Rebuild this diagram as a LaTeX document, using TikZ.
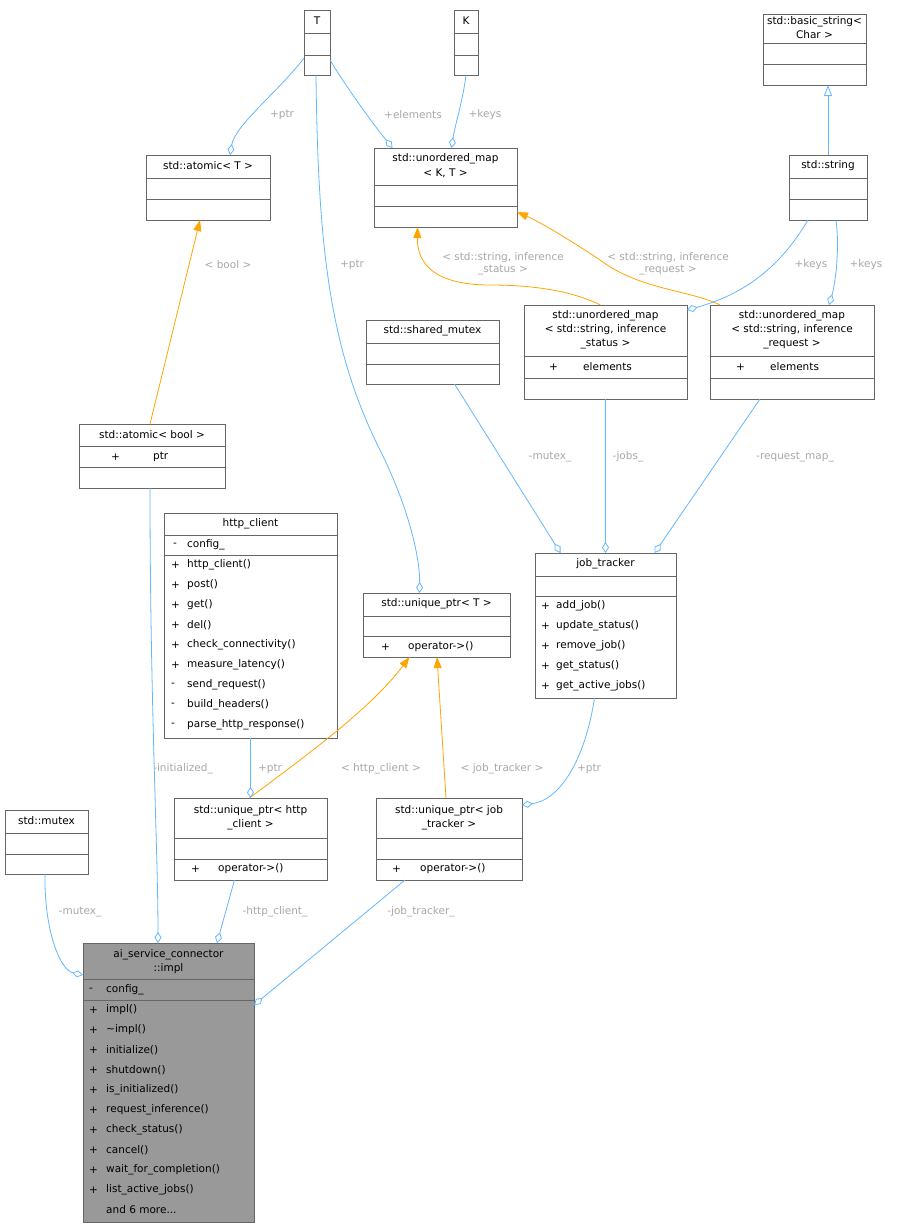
\documentclass[tikz,border=0pt]{standalone}
\usepackage{fontspec}
\setmainfont{DejaVu Sans}
\usetikzlibrary{arrows.meta,calc}
\definecolor{edgeb}{HTML}{63B8FF}
\definecolor{edgeo}{HTML}{FFA500}
\definecolor{lbl}{HTML}{A8A8A8}
\definecolor{brd}{HTML}{666666}
\definecolor{implfill}{HTML}{999999}
\newcommand\ubox[6][white]{\node[box,fill=#1,minimum width={(#5-#3)*1pt},minimum height={(#6-#4)*1pt},anchor=north west] (#2) at (#3,-#4) {};}
\newcommand\usep[3]{\draw[brd] (#1,-#3) -- (#2,-#3);}
\newcommand\hdt[3]{\node[txt] at (#1,{-(#2)}) {#3};}
\newcommand\mtx[3]{\node[txt,anchor=west] at (#1,{-(#2)}) {#3};}
\begin{document}
\begin{tikzpicture}[x=1pt,y=1pt,
  box/.style={draw=brd,inner sep=0,outer sep=0,line width=0.8pt},
  txt/.style={inner sep=0,font=\fontsize{10.5}{12}\selectfont},
  lab/.style={inner sep=0,font=\fontsize{10.5}{12}\selectfont,text=lbl},
  assoc/.style={edgeb,line width=0.8pt,-{Diamond[open,length=11pt,width=7pt]}},
  tmpl/.style={edgeo,line width=0.8pt,-{Triangle[length=11pt,width=8pt]}},
  inh/.style={edgeb,line width=0.8pt,-{Triangle[open,length=11pt,width=8pt]}}]
\useasboundingbox (0,0) rectangle (899,-1229);
\fill[white] (0,0) rectangle (899,-1229);
% boxes
\ubox{T}{304}{10}{330}{75}\usep{304}{330}{33}\usep{304}{330}{55}\hdt{317}{21}{T}
\ubox{K}{454}{10}{478}{75}\usep{454}{478}{33}\usep{454}{478}{55}\hdt{466}{21}{K}
\ubox{bstr}{763}{14}{866}{85}\usep{763}{866}{43}\usep{763}{866}{64}\hdt{814.5}{22}{std::basic\_string<}\hdt{814.5}{35}{Char >}
\ubox{atomT}{146}{155}{270}{220}\usep{146}{270}{178}\usep{146}{270}{199}\hdt{208}{166}{std::atomic< T >}
\ubox{umapKT}{374}{148}{517}{227}\usep{374}{517}{185}\usep{374}{517}{206}\hdt{445.5}{159}{std::unordered\_map}\hdt{445.5}{173}{< K, T >}
\ubox{str}{789}{155}{867}{220}\usep{789}{867}{178}\usep{789}{867}{199}\hdt{828}{166}{std::string}
\ubox{shm}{366}{320}{499}{384}\usep{366}{499}{343}\usep{366}{499}{364}\hdt{432.5}{331}{std::shared\_mutex}
\ubox{umS}{524}{305}{687}{399}\usep{524}{687}{356}\usep{524}{687}{378}
\hdt{605.5}{316}{std::unordered\_map}\hdt{605.5}{330}{< std::string, inference}\hdt{605.5}{344}{\_status >}
\mtx{549}{367}{+}\mtx{583}{367}{elements}
\ubox{umR}{710}{305}{874}{399}\usep{710}{874}{356}\usep{710}{874}{378}
\hdt{792}{316}{std::unordered\_map}\hdt{792}{330}{< std::string, inference}\hdt{792}{344}{\_request >}
\mtx{736}{367}{+}\mtx{770}{367}{elements}
\ubox{atomB}{79}{424}{225}{488}\usep{79}{225}{446}\usep{79}{225}{467}\hdt{152}{435}{std::atomic< bool >}
\mtx{111}{457}{+}\mtx{153}{457}{ptr}
\ubox{http}{164}{513}{337}{738}\usep{164}{337}{535}\usep{164}{337}{555}\hdt{250.5}{524}{http\_client}
\mtx{173}{545}{-}\mtx{187}{545}{config\_}
\foreach \s/\n [count=\i from 0] in {+/http\_client(),+/post(),+/get(),+/del(),+/check\_connectivity(),+/measure\_latency(),-/send\_request(),-/build\_headers(),-/parse\_http\_response()}
  {\mtx{171}{565+20*\i}{\s}\mtx{187}{565+20*\i}{\n}}
\ubox{uT}{363}{593}{510}{657}\usep{363}{510}{616}\usep{363}{510}{636}\hdt{436.5}{604}{std::unique\_ptr< T >}
\mtx{381}{647}{+}\mtx{408}{647}{operator->()}
\ubox{jt}{535}{553}{676}{698}\usep{535}{676}{576}\usep{535}{676}{596}\hdt{605.5}{564}{job\_tracker}
\foreach \n [count=\i from 0] in {add\_job(),update\_status(),remove\_job(),get\_status(),get\_active\_jobs()}
  {\mtx{541}{606+20*\i}{+}\mtx{556}{606+20*\i}{\n}}
\ubox{mutex}{5}{810}{88}{874}\usep{5}{88}{833}\usep{5}{88}{854}\hdt{46.5}{821}{std::mutex}
\ubox{uH}{174}{798}{327}{880}\usep{174}{327}{838}\usep{174}{327}{859}\hdt{250.5}{811}{std::unique\_ptr< http}\hdt{250.5}{825}{\_client >}
\mtx{191}{869}{+}\mtx{218}{869}{operator->()}
\ubox{uJ}{376}{798}{522}{880}\usep{376}{522}{838}\usep{376}{522}{859}\hdt{449}{811}{std::unique\_ptr< job}\hdt{449}{825}{\_tracker >}
\mtx{392}{869}{+}\mtx{420}{869}{operator->()}
\ubox[implfill]{impl}{83}{943}{254}{1222}\usep{83}{254}{979}\usep{83}{254}{1000}
\hdt{168.5}{955}{ai\_service\_connector}\hdt{168.5}{969}{::impl}
\mtx{89}{990}{-}\mtx{106}{990}{config\_}
\foreach \n [count=\i from 0] in {impl(),\textasciitilde impl(),initialize(),shutdown(),is\_initialized(),request\_inference(),check\_status(),cancel(),wait\_for\_completion(),list\_active\_jobs()}
  {\mtx{89}{1010+20*\i}{+}\mtx{106}{1010+20*\i}{\n}}
\mtx{106}{1210}{and 6 more...}
% edges
\draw[assoc] ($(T.south)+(-13,17)$) .. controls (280,-90) and (235,-125) .. ([xshift=22]atomT.north);
\draw[assoc] ($(T.south east)+(0,15)$) .. controls (345,-85) and (370,-120) .. ([xshift=-53]umapKT.north);
\draw[assoc] (K.south) .. controls (463,-100) and (455,-125) .. ([xshift=6]umapKT.north);
\draw[inh] (str.north) -- (bstr.south -| str.north);
\draw[tmpl] ([xshift=-5]umS.north) .. controls (570,-290) and (530,-285) .. (490,-285) .. controls (430,-285) and (417,-260) .. ([xshift=-28]umapKT.south);
\draw[tmpl] ([xshift=10]umR.north west) .. controls (690,-290) and (640,-290) .. (600,-260) .. controls (570,-240) and (540,-222) .. ($(umapKT.south east)+(0,15)$);
\draw[assoc] ([xshift=-20]str.south) .. controls (790,-250) and (760,-290) .. ([yshift=-5]umS.north east);
\draw[assoc] ([xshift=8]str.south) .. controls (840,-250) and (835,-285) .. ([xshift=-45]umR.north east);
\draw[tmpl] ([xshift=-2]atomB.north) -- ([xshift=-8]atomT.south);
\draw[assoc] ([xshift=-1]T.south) .. controls (318,-250) and (330,-350) .. (380,-450) .. controls (410,-510) and (420,-560) .. ([xshift=-17]uT.north);
\draw[assoc] ([xshift=22]shm.south) -- ([xshift=-45]jt.north);
\draw[assoc] (umS.south) -- (jt.north);
\draw[assoc] ([xshift=-32]umR.south) -- ([xshift=49]jt.north);
\draw[tmpl] ([xshift=-1]uH.north) .. controls (300,-760) and (370,-710) .. ([xshift=-27]uT.south);
\draw[tmpl] ([xshift=-3]uJ.north) -- ([xshift=0.5]uT.south);
\draw[assoc] (http.south) -- (uH.north -| http.south);
\draw[assoc] ([xshift=-11]jt.south) .. controls (585,-760) and (560,-800) .. ([yshift=-7]uJ.north east);
\draw[assoc] ([xshift=-2]atomB.south) .. controls (150,-700) and (158,-850) .. ([xshift=-10.5]impl.north);
\draw[assoc] ([xshift=-1.5]mutex.south) .. controls (44,-930) and (60,-970) .. ([yshift=-32]impl.north west);
\draw[assoc] ([xshift=-16]uH.south) -- ([xshift=48.5]impl.north);
\draw[assoc] ([xshift=-44]uJ.south) -- ([yshift=-62]impl.north east);
% labels
\node[lab] at (282,-115) {+ptr};
\node[lab] at (413,-115) {+elements};
\node[lab] at (485,-115) {+keys};
\node[lab,align=center] at (503,-264) {< std::string, inference\\\_status >};
\node[lab,align=center] at (668,-264) {< std::string, inference\\\_request >};
\node[lab] at (811,-265) {+keys};
\node[lab] at (866,-265) {+keys};
\node[lab] at (228,-265) {< bool >};
\node[lab] at (352,-265) {+ptr};
\node[lab] at (550,-457) {-mutex\_};
\node[lab] at (628,-457) {-jobs\_};
\node[lab] at (795,-457) {-request\_map\_};
\node[lab] at (381,-769) {< http\_client >};
\node[lab] at (502,-769) {< job\_tracker >};
\node[lab] at (270,-769) {+ptr};
\node[lab] at (589,-769) {+ptr};
\node[lab] at (183,-769) {-initialized\_};
\node[lab] at (80,-912) {-mutex\_};
\node[lab] at (275,-912) {-http\_client\_};
\node[lab] at (421,-912) {-job\_tracker\_};
\end{tikzpicture}
\end{document}
